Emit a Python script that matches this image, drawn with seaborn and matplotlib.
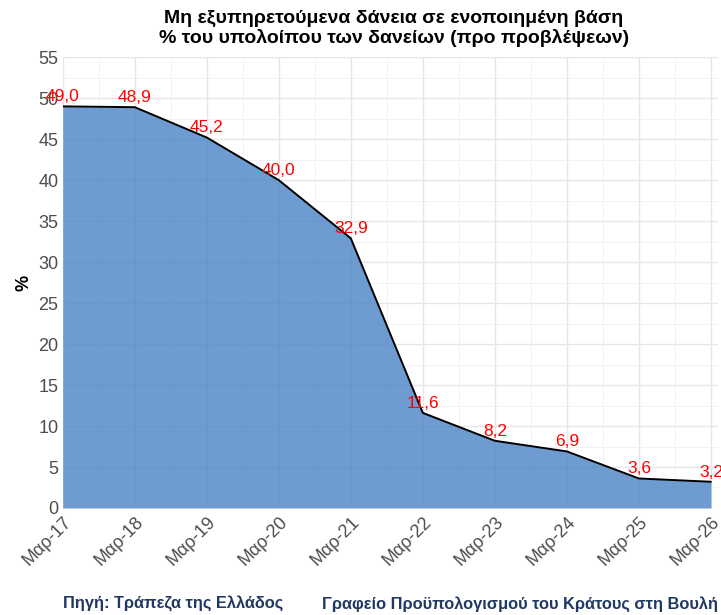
import numpy as np
import pandas as pd
import matplotlib
matplotlib.use("Agg")
import matplotlib.pyplot as plt
import seaborn as sns
from matplotlib.ticker import MultipleLocator

# NPL ratio, consolidated basis, % of loans (before provisions)
periods = ['Μαρ-17', 'Μαρ-18', 'Μαρ-19', 'Μαρ-20', 'Μαρ-21',
           'Μαρ-22', 'Μαρ-23', 'Μαρ-24', 'Μαρ-25', 'Μαρ-26']
npl = [49.0, 48.9, 45.2, 40.0, 32.9, 11.6, 8.2, 6.9, 3.6, 3.2]

df = pd.DataFrame({'period': periods, 'npl': npl})
df['pos'] = np.arange(len(df))

sns.set_theme(style='whitegrid')
plt.rcParams['font.family'] = ['Liberation Sans', 'DejaVu Sans']

fig = plt.figure(figsize=(7.21, 6.15), dpi=100)
ax = fig.add_axes([0.087, 0.174, 0.909, 0.733])

ax.fill_between(df['pos'], df['npl'], 0, color='#4f86c6', alpha=0.82, lw=0, zorder=2)
sns.lineplot(data=df, x='pos', y='npl', color='black', lw=1.4, ax=ax, zorder=3)

for p, v in zip(df['pos'], df['npl']):
    ax.annotate(f'{v:.1f}'.replace('.', ','), (p, v), xytext=(0, 1.5),
                textcoords='offset points', ha='center', va='bottom',
                color='red', fontsize=12.5, zorder=4)

ax.set_xlim(0, len(df) - 1 + 0.1)
ax.set_ylim(0, 55)
ax.set_xticks(df['pos'])
ax.set_xticklabels(df['period'], rotation=45, ha='right', rotation_mode='anchor')
ax.yaxis.set_major_locator(MultipleLocator(5))
ax.yaxis.set_minor_locator(MultipleLocator(2.5))
ax.xaxis.set_minor_locator(MultipleLocator(0.5))
ax.grid(which='major', color='#e6e6e6', lw=1.0)
ax.grid(which='minor', color='#f2f2f2', lw=0.7)
ax.set_axisbelow(True)
for s in ax.spines.values():
    s.set_visible(False)
ax.tick_params(axis='both', which='both', length=0, labelsize=13, labelcolor='#4d4d4d')
ax.tick_params(axis='x', pad=4)
ax.tick_params(axis='y', pad=3)

ax.set_xlabel('')
ax.set_ylabel('%', fontsize=13, fontweight='bold', color='black')

fig.suptitle('Μη εξυπηρετούμενα δάνεια σε ενοποιημένη βάση\n% του υπολοίπου των δανείων (προ προβλέψεων)',
             fontsize=14, fontweight='bold', y=0.984, x=0.546, linespacing=1.15, color='black')

fig.text(0.087, 0.018, 'Πηγή: Τράπεζα της Ελλάδος', fontsize=11.8, fontweight='bold',
         color='#1f3864', ha='left', va='center')
fig.text(0.996, 0.018, 'Γραφείο Προϋπολογισμού του Κράτους στη Βουλή', fontsize=11.8,
         fontweight='bold', color='#1f3864', ha='right', va='center')

fig.savefig('out.png', dpi=100)
